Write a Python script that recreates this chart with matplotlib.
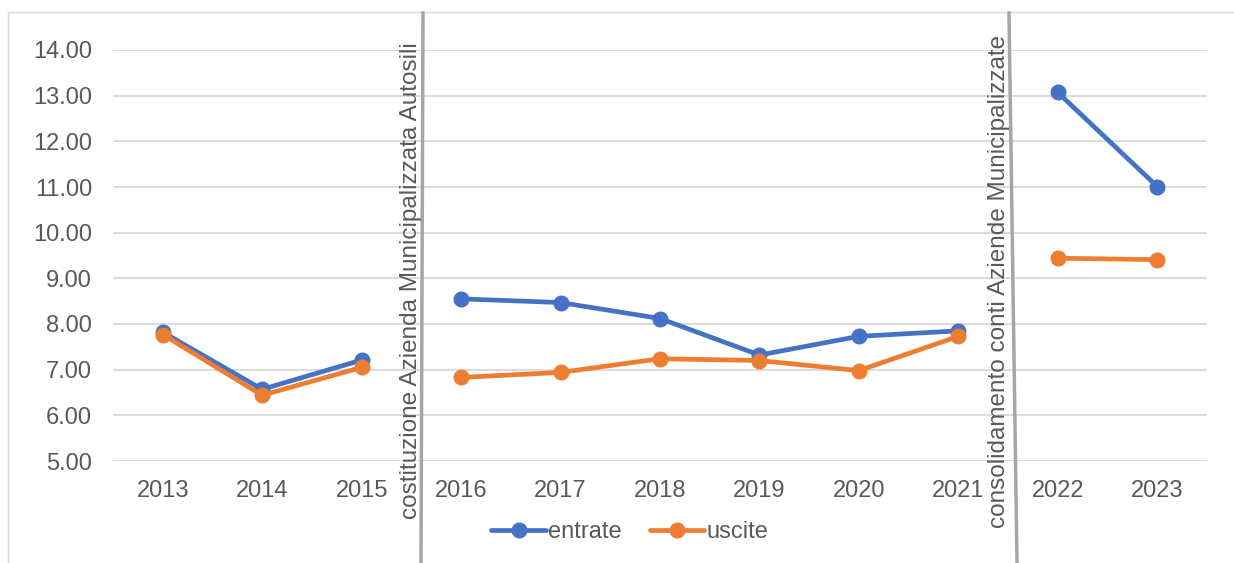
import matplotlib.pyplot as plt
from matplotlib.lines import Line2D

plt.rcParams['font.family'] = ['Liberation Sans', 'DejaVu Sans']

years = ['2013', '2014', '2015', '2016', '2017', '2018', '2019', '2020', '2021', '2022', '2023']
entrate = [7.82, 6.57, 7.21, 8.55, 8.47, 8.12, 7.32, 7.73, 7.85, 13.07, 11.01]
uscite = [7.77, 6.44, 7.05, 6.83, 6.94, 7.24, 7.20, 6.98, 7.73, 9.44, 9.41]
# periods separated by organisational changes
periods = [(0, 3), (3, 9), (9, 11)]
events = ['costituzione Azienda Municipalizzata Autosili',
          'consolidamento conti Aziende Municipalizzate']

W, H = 1234, 563
fig = plt.figure(figsize=(W / 100, H / 100), dpi=100)
ax = fig.add_axes([113 / W, 1 - 461 / H, (1207 - 113) / W, (461 - 50) / H])

grey = '#595959'
x = list(range(len(years)))
for vals, col, lab in [(entrate, '#4472C4', 'entrate'), (uscite, '#ED7D31', 'uscite')]:
    for i, (a, b) in enumerate(periods):
        ax.plot(x[a:b], vals[a:b], color=col, lw=3.4, marker='o', ms=10.5,
                solid_capstyle='round', label=lab if i == 0 else None)

ax.set_xlim(-0.5, len(years) - 0.5)
ax.set_ylim(5, 14)
ax.set_yticks(range(5, 15))
ax.set_yticklabels([f'{v:.2f}' for v in range(5, 15)])
ax.set_xticks(x)
ax.set_xticklabels(years)
ax.tick_params(length=0, labelsize=17, labelcolor=grey)
ax.tick_params(axis='y', pad=15)
ax.tick_params(axis='x', pad=14)
ax.grid(axis='y', color='#D9D9D9', lw=1.3)
ax.set_axisbelow(True)
for s in ax.spines.values():
    s.set_visible(False)

# chart border (top and left edges visible)
fig.add_artist(Line2D([8 / W, 1], [1 - 12 / H, 1 - 12 / H], color='#D9D9D9', lw=1))
fig.add_artist(Line2D([8 / W, 8 / W], [1 - 12 / H, 0], color='#D9D9D9', lw=1))

# separator lines with event labels
seps = [((423, 13), (421, 563)), ((1009, 13), (1017, 563))]
text_x = [411, 999]
for (p0, p1), tx, txt in zip(seps, text_x, events):
    fig.add_artist(Line2D([p0[0] / W, p1[0] / W], [1 - p0[1] / H, 1 - p1[1] / H],
                          color='#A6A6A6', lw=2.5))
    fig.text(tx / W, 1 - 281 / H, txt, rotation=90, ha='center', va='center',
             fontsize=17.5, color=grey)

fig.legend(loc='center', bbox_to_anchor=(630 / W, 1 - 532 / H), ncol=2,
           frameon=False, fontsize=17, labelcolor=grey, handlelength=2.3,
           handletextpad=0.1, columnspacing=1.2)

fig.savefig('out.png', dpi=100)
